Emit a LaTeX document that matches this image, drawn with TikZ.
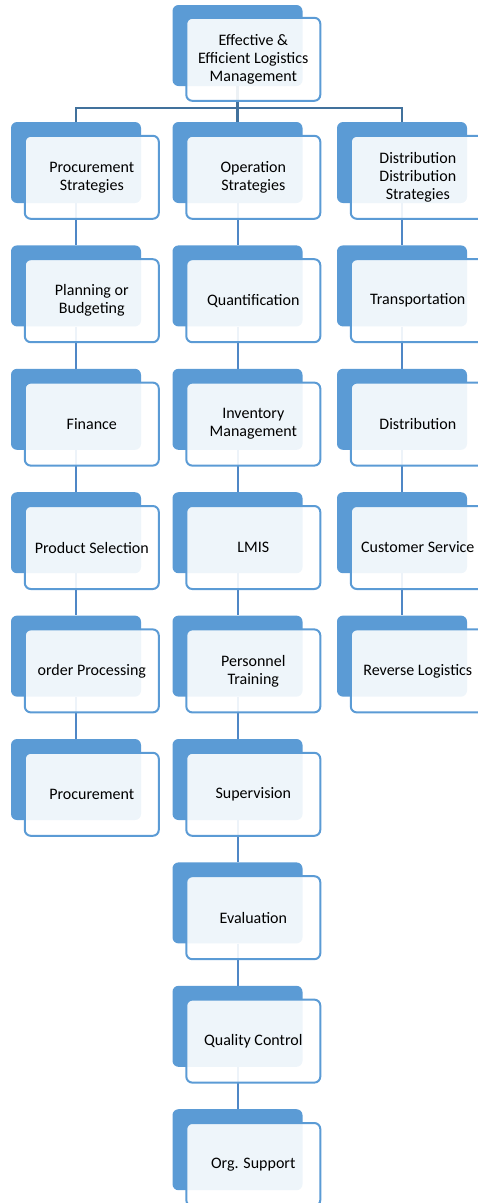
\documentclass[tikz,border=0pt]{standalone}
\usepackage{fontspec}
\setmainfont{Carlito}
\usetikzlibrary{positioning,backgrounds}

\definecolor{boxblue}{RGB}{91,155,213}
\definecolor{linkblue}{RGB}{79,135,198}
\definecolor{busblue}{RGB}{65,113,156}

\tikzset{
  backbox/.style={rectangle, rounded corners=6pt, fill=boxblue, minimum width=130pt, minimum height=81pt, inner sep=0pt},
  frontbox/.style={rectangle, rounded corners=6pt, draw=boxblue, line width=2pt, fill=white, fill opacity=0.9, text opacity=1, minimum width=134pt, minimum height=83pt, inner sep=0pt, align=center, anchor=north west, text=black, font=\fontsize{16}{18}\selectfont},
  link/.style={draw=linkblue, line width=2pt},
  bus/.style={draw=busblue, line width=2.2pt}
}

\begin{document}
\begin{tikzpicture}[x=1pt, y=-1pt, node distance=42pt]
    \useasboundingbox (0,0) rectangle (477,1203);

    % top
    \node (root) [backbox] at (237.5,45.5) {};
    \node (root-t) [frontbox] at ([shift={(13,12)}]root.north west) {Effective \&\\Efficient Logistics\\Management};

    % procurement column
    \node (pstrat) [backbox] at (76,162.5) {};
    \node (pstrat-t) [frontbox] at ([shift={(13,13)}]pstrat.north west) {Procurement\\Strategies};
    \node (plan) [backbox, below=of pstrat] {};
    \node (plan-t) [frontbox] at ([shift={(13,13)}]plan.north west) {Planning or\\Budgeting};
    \node (fin) [backbox, below=of plan] {};
    \node (fin-t) [frontbox] at ([shift={(13,13)}]fin.north west) {Finance};
    \node (prodsel) [backbox, below=of fin] {};
    \node (prodsel-t) [frontbox] at ([shift={(13,13)}]prodsel.north west) {Product Selection};
    \node (order) [backbox, below=of prodsel] {};
    \node (order-t) [frontbox] at ([shift={(13,13)}]order.north west) {order Processing};
    \node (procur) [backbox, below=of order] {};
    \node (procur-t) [frontbox] at ([shift={(13,13)}]procur.north west) {Procurement};

    % operation column
    \node (ostrat) [backbox] at (237.5,162.5) {};
    \node (ostrat-t) [frontbox] at ([shift={(13,13)}]ostrat.north west) {Operation\\Strategies};
    \node (quant) [backbox, below=of ostrat] {};
    \node (quant-t) [frontbox] at ([shift={(13,13)}]quant.north west) {Quantification};
    \node (inv) [backbox, below=of quant] {};
    \node (inv-t) [frontbox] at ([shift={(13,13)}]inv.north west) {Inventory\\Management};
    \node (lmis) [backbox, below=of inv] {};
    \node (lmis-t) [frontbox] at ([shift={(13,13)}]lmis.north west) {LMIS};
    \node (train) [backbox, below=of lmis] {};
    \node (train-t) [frontbox] at ([shift={(13,13)}]train.north west) {Personnel\\Training};
    \node (superv) [backbox, below=of train] {};
    \node (superv-t) [frontbox] at ([shift={(13,13)}]superv.north west) {Supervision};
    \node (evalu) [backbox, below=of superv] {};
    \node (evalu-t) [frontbox] at ([shift={(13,13)}]evalu.north west) {Evaluation};
    \node (qual) [backbox, below=of evalu] {};
    \node (qual-t) [frontbox] at ([shift={(13,13)}]qual.north west) {Quality Control};
    \node (orgsup) [backbox, below=of qual] {};
    \node (orgsup-t) [frontbox] at ([shift={(13,13)}]orgsup.north west) {Org. Support};

    % distribution column
    \node (dstrat) [backbox] at (402,162.5) {};
    \node (dstrat-t) [frontbox] at ([shift={(13,13)}]dstrat.north west) {Distribution\\Distribution\\Strategies};
    \node (transp) [backbox, below=of dstrat] {};
    \node (transp-t) [frontbox] at ([shift={(13,13)}]transp.north west) {Transportation};
    \node (distr) [backbox, below=of transp] {};
    \node (distr-t) [frontbox] at ([shift={(13,13)}]distr.north west) {Distribution};
    \node (custs) [backbox, below=of distr] {};
    \node (custs-t) [frontbox] at ([shift={(13,13)}]custs.north west) {Customer Service};
    \node (revlog) [backbox, below=of custs] {};
    \node (revlog-t) [frontbox] at ([shift={(13,13)}]revlog.north west) {Reverse Logistics};

    \begin{scope}[on background layer]
        \draw[bus] (root.center) -- ++(0,62.5) coordinate (hub);
        \draw[bus] (hub) -| (pstrat.north);
        \draw[bus] (hub) -- (ostrat.north);
        \draw[bus] (hub) -| (dstrat.north);

        \draw[link] (pstrat) -- (plan) -- (fin) -- (prodsel) -- (order) -- (procur);
        \draw[link] (ostrat) -- (quant) -- (inv) -- (lmis) -- (train) -- (superv) -- (evalu) -- (qual) -- (orgsup);
        \draw[link] (dstrat) -- (transp) -- (distr) -- (custs) -- (revlog);
    \end{scope}
\end{tikzpicture}
\end{document}
